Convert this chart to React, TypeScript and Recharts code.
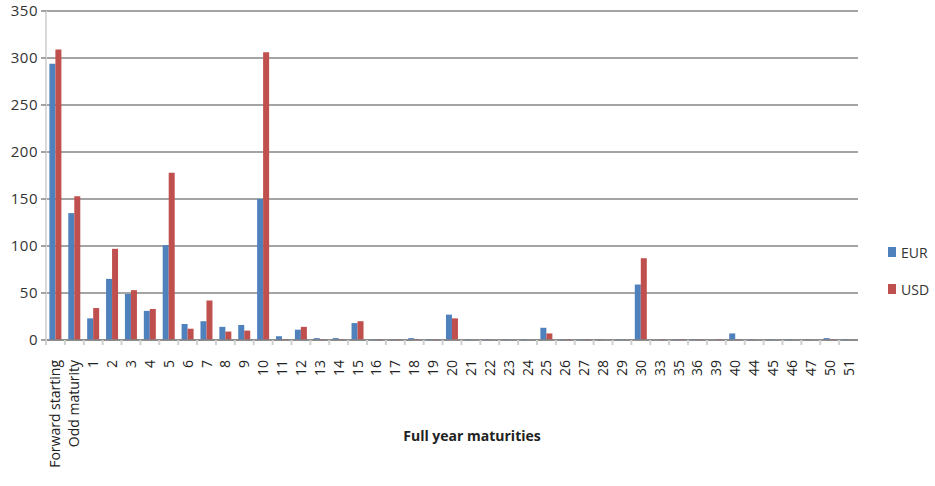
import React from "react";
import { BarChart, Bar, XAxis, YAxis, CartesianGrid, Label } from "recharts";

const categories = [
  "Forward starting", "Odd maturity", "1", "2", "3", "4", "5", "6", "7", "8", "9", "10",
  "11", "12", "13", "14", "15", "16", "17", "18", "19", "20", "21", "22", "23", "24", "25",
  "26", "27", "28", "29", "30", "33", "35", "36", "39", "40", "44", "45", "46", "47", "50", "51",
];

const eurValues = [
  294, 135, 23, 65, 49, 31, 101, 17, 20, 14, 16, 150,
  4, 11, 2, 2, 18, 1, 1, 2, 1, 27, 1, 1, 1, 1, 13,
  1, 1, 1, 1, 59, 0, 1, 1, 0, 7, 1, 1, 1, 1, 2, 1,
];

const usdValues = [
  309, 153, 34, 97, 53, 33, 178, 12, 42, 9, 10, 306,
  1, 14, 1, 1, 20, 1, 1, 1, 1, 23, 0, 0, 0, 0, 7,
  1, 1, 0, 0, 87, 1, 1, 1, 1, 1, 0, 0, 0, 0, 1, 0,
];

const yTicks = [0, 50, 100, 150, 200, 250, 300, 350];

const seriesNames = ["EUR", "USD"];
const seriesColors = ["#4F81BD", "#C0504D"];

const data = categories.map((c, i) => ({
  name: c,
  EUR: eurValues[i],
  USD: usdValues[i],
}));

const FONT = "'Open Sans', 'DejaVu Sans', sans-serif";

const XTick = (props: any) => {
  const { x, y, payload } = props;
  const band = 812 / categories.length;
  return (
    <g>
      <line x1={x - band / 2} y1={y - 8} x2={x - band / 2} y2={y - 3} stroke="#d0d0d0" strokeWidth={2} />
      <text
        transform={`translate(${x + 5},${y + 12}) rotate(-90)`}
        textAnchor="end"
        fontSize={14}
        fontFamily={FONT}
        fill="#222"
      >
        {payload.value}
      </text>
    </g>
  );
};

export default function App() {
  return (
    <div style={{ position: "absolute", left: 0, top: 0, width: 935, height: 486, background: "#fff" }}>
      <BarChart
        width={935}
        height={486}
        data={data}
        margin={{ top: 11, right: 77, bottom: 0, left: 0 }}
        barCategoryGap="18%"
        barGap={0}
      >
        <CartesianGrid vertical={false} stroke="#868686" strokeWidth={1.5} />
        <XAxis
          dataKey="name"
          interval={0}
          height={146}
          tick={<XTick />}
          tickLine={false}
          axisLine={{ stroke: "#868686", strokeWidth: 1.5 }}
        >
          <Label
            value="Full year maturities"
            position="insideBottom"
            offset={45}
            dx={20}
            style={{ fontFamily: FONT, fontSize: 14, fontWeight: 700, fill: "#222" }}
          />
        </XAxis>
        <YAxis
          width={46}
          domain={[0, 350]}
          ticks={yTicks}
          interval={0}
          tickSize={5}
          tickMargin={3}
          tickLine={{ stroke: "#868686", strokeWidth: 1.5 }}
          axisLine={{ stroke: "#d9d9d9", strokeWidth: 2 }}
          tick={{ fontFamily: FONT, fontSize: 15, fill: "#333", letterSpacing: 0.5 }}
        />
        <Bar dataKey="EUR" fill={seriesColors[0]} isAnimationActive={false} />
        <Bar dataKey="USD" fill={seriesColors[1]} isAnimationActive={false} />
      </BarChart>
      <div style={{ position: "absolute", left: 888, top: 243, fontFamily: FONT, fontSize: 14, color: "#333" }}>
        {seriesNames.map((n, i) => (
          <div key={n} style={{ display: "flex", alignItems: "center", height: 18, marginBottom: i === 0 ? 19 : 0 }}>
            <span style={{ display: "inline-block", width: 8, height: 10, background: seriesColors[i], marginRight: 5 }} />
            <span>{n}</span>
          </div>
        ))}
      </div>
    </div>
  );
}
